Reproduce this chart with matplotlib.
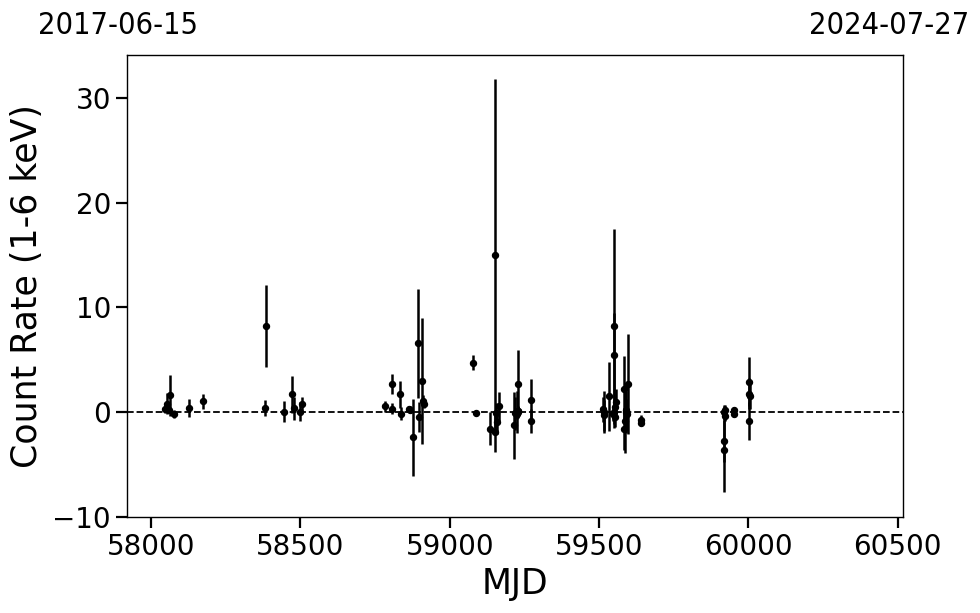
import matplotlib
matplotlib.use("Agg")
import matplotlib.pyplot as plt
import numpy as np

# ---- data (MJD, count rate, 1-sigma error) ----
mjd = [
    58047, 58053, 58058, 58064, 58077, 58125, 58172,
    58382, 58384, 58446, 58470, 58477, 58497, 58504,
    58784, 58805, 58806, 58834, 58838, 58863, 58868, 58878, 58895, 58896,
    58907, 58909, 58915,
    59079, 59089, 59136, 59153, 59153, 59155, 59159, 59164,
    59216, 59220, 59224, 59226, 59227, 59229, 59230, 59227, 59273, 59273,
    59513, 59515, 59517, 59532, 59549, 59549, 59550, 59548, 59552, 59557, 59555,
    59582, 59596, 59589, 59591, 59593, 59582, 59588, 59639, 59640,
    59920, 59921, 59920, 59920, 59923, 59951, 59953,
    60002, 60002, 60005, 60002,
]
rate = [
    0.35, 0.8, 0.2, 1.6, -0.15, 0.4, 1.05,
    0.4, 8.2, 0.03, 1.7, 0.4, 0.03, 0.75,
    0.57, 2.67, 0.35, 1.7, -0.13, 0.29, 0.25, -2.4, 6.6, -0.45,
    2.96, 1.08, 0.8,
    4.74, -0.03, -1.56, 15.05, -1.85, -0.06, -0.9, 0.57,
    -1.24, -0.1, 0.0, -0.2, 0.03, 0.15, 0.1, 2.67, 1.15, -0.86,
    0.3, 0.03, -0.3, 1.53, 8.2, 5.44, 0.03, -0.2, 0.5, 0.98, -0.45,
    2.26, 2.7, 0.2, 0.03, -0.2, -1.56, -0.8, -0.76, -1.0,
    0.03, -0.38, -2.77, -3.56, 0.2, 0.19, -0.13,
    2.9, 1.78, 1.53, -0.83,
]
err = [
    0.4, 1.0, 0.3, 2.0, 0.4, 0.85, 0.7,
    0.8, 3.9, 1.0, 1.75, 1.1, 0.9, 0.7,
    0.5, 0.95, 0.55, 1.3, 0.6, 0.3, 0.3, 3.7, 5.2, 1.4,
    6.0, 0.6, 0.4,
    0.7, 0.2, 1.6, 16.75, 1.9, 0.9, 1.2, 1.4,
    3.2, 1.6, 2.0, 0.4, 0.5, 0.4, 0.4, 3.25, 2.05, 1.15,
    1.2, 2.0, 1.5, 3.3, 9.3, 4.0, 1.5, 0.6, 1.0, 1.2, 1.0,
    3.1, 4.75, 1.0, 2.0, 1.5, 2.0, 3.1, 0.45, 0.3,
    0.7, 0.5, 2.0, 4.05, 0.5, 0.3, 0.3,
    2.35, 1.5, 1.2, 1.8,
]

xticks = [58000, 58500, 59000, 59500, 60000, 60500]
yticks = [-10, 0, 10, 20, 30]
xlim = (57919, 60518)
ylim = (-10, 34.1)
date_left = "2017-06-15"
date_right = "2024-07-27"

fig = plt.figure(figsize=(9.8, 6.13), dpi=100)
ax = fig.add_axes([127 / 980, 1 - 517 / 613, (903 - 127) / 980, (517 - 55) / 613])

ax.errorbar(mjd, rate, yerr=err, fmt='o', color='black', ms=4.3,
            elinewidth=1.8, capsize=0, zorder=3)
ax.axhline(0, color='black', ls='--', lw=1.3, zorder=2)

ax.set_xlim(*xlim)
ax.set_ylim(*ylim)
ax.set_xticks(xticks)
ax.set_yticks(yticks)
ax.tick_params(axis='both', which='major', labelsize=20, length=8, width=1.6,
               direction='out', color='black')
ax.set_xlabel("MJD", fontsize=25, labelpad=4)
ax.set_ylabel("Count Rate (1-6 keV)", fontsize=25, labelpad=6)
for s in ax.spines.values():
    s.set_linewidth(1.0)
    s.set_color('black')

fig.text(118 / 980, 1 - 34 / 613, date_left, ha='center', va='baseline',
         fontsize=22, family='DejaVu Sans', fontstretch='condensed')
fig.text(889 / 980, 1 - 34 / 613, date_right, ha='center', va='baseline',
         fontsize=22, family='DejaVu Sans', fontstretch='condensed')

fig.savefig("out.png", dpi=100)
